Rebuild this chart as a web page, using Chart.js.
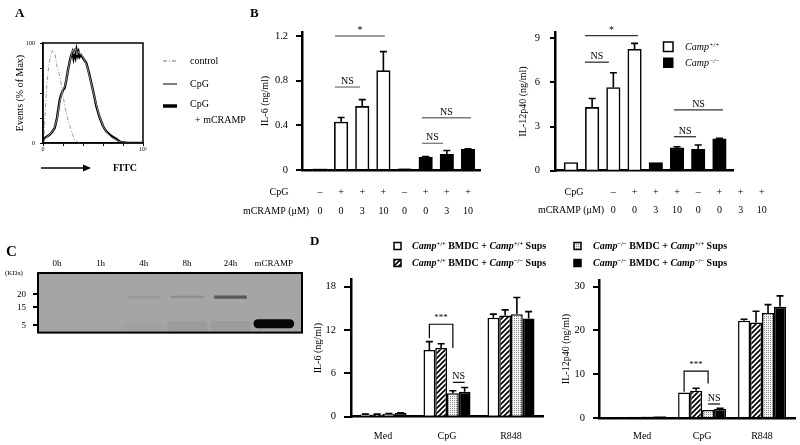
<!DOCTYPE html>
<html>
<head>
<meta charset="utf-8">
<script src="https://cdn.jsdelivr.net/npm/chart.js@4.4.1/dist/chart.umd.min.js"></script>
<style>
  body { margin: 0; background: #fff; }
  #wrap { position: relative; width: 800px; height: 445px; overflow: hidden; font-family: "Liberation Serif", "Times New Roman", serif; color: #000; }
  canvas { position: absolute; }
  .t { position: absolute; line-height: 1; white-space: nowrap; transform: translateY(-50%); font-size: 10px; }
  .t sup { font-size: 0.65em; vertical-align: 0.5em; line-height: 0; }
  .b { font-weight: bold; }
</style>
</head>
<body>
<div id="wrap">
  <canvas id="cA" width="250" height="200" style="left:0;top:0"></canvas>
  <canvas id="cB1" width="260" height="225" style="left:240px;top:0"></canvas>
  <canvas id="cB2" width="300" height="225" style="left:500px;top:0"></canvas>
  <canvas id="cC" width="320" height="115" style="left:0;top:230px"></canvas>
  <canvas id="cD1" width="450" height="215" style="left:300px;top:230px"></canvas>
  <canvas id="cD2" width="260" height="215" style="left:540px;top:230px"></canvas>

  <div class="t b" style="left:15px;top:12px;font-size:13px">A</div>
  <div class="t b" style="left:250px;top:12px;font-size:13px">B</div>
  <div class="t b" style="left:6px;top:251px;font-size:15px">C</div>
  <div class="t b" style="left:310px;top:240px;font-size:13px">D</div>

  <div class="t" style="left:190px;top:61px">control</div>
  <div class="t" style="left:190px;top:84px">CpG</div>
  <div class="t" style="left:190px;top:104px">CpG</div>
  <div class="t" style="left:195px;top:120px">+ mCRAMP</div>
  <div class="t b" style="left:113px;top:168px">FITC</div>

  <div class="t" style="left:685px;top:47px"><i>Camp</i><sup><i>+/+</i></sup></div>
  <div class="t" style="left:685px;top:63px"><i>Camp</i><sup><i>−/−</i></sup></div>

  <div class="t" style="left:5px;top:273px;font-size:7px">(KDa)</div>

  <div class="t b" style="left:412px;top:246px"><i>Camp</i><sup>+/+</sup> BMDC + <i>Camp</i><sup>+/+</sup> Sups</div>
  <div class="t b" style="left:412px;top:263px"><i>Camp</i><sup>+/+</sup> BMDC + <i>Camp</i><sup>−/−</sup> Sups</div>
  <div class="t b" style="left:593px;top:246px"><i>Camp</i><sup>−/−</sup> BMDC + <i>Camp</i><sup>+/+</sup> Sups</div>
  <div class="t b" style="left:593px;top:263px"><i>Camp</i><sup>−/−</sup> BMDC + <i>Camp</i><sup>−/−</sup> Sups</div>
</div>

<script>
// ---- A: FITC histogram (x = position along the 0..10^5 log axis, 0-100; y = % of max)
const ctrlX = [0, 0.7, 2.3, 4, 6, 8.3, 10, 11.7, 14, 16.7, 19.3, 21.7, 25, 28.3, 31.7, 35, 40];
const ctrlY = [0, 1.7, 33, 60, 80, 90, 93, 90, 77, 67, 53, 37, 23, 12, 3, 0.7, 0];
const cpgX = [0, 2, 5, 8, 11, 14, 16.7, 18.5, 20, 22, 24, 26, 28, 29.5, 31, 32.5, 34, 35.5, 37, 39, 41, 44, 47, 50, 53, 56, 60, 64, 68, 72, 76, 80, 100];
const cpgY = [2, 4.5, 7, 10, 14, 24, 41, 48, 54, 57, 67, 78, 87, 93, 89, 95, 88, 92, 89, 88, 84, 77, 65, 52, 40, 28, 17, 10, 6, 3.5, 1.5, 0.3, 0];
const cramX = [0, 1.7, 4, 6.7, 9, 11.7, 14, 16.7, 18.5, 20, 21.7, 23.3, 25, 27, 28.3, 29.5, 30.5, 31.5, 32.5, 33.5, 34.5, 35.5, 36.5, 38, 40, 43.3, 46, 48.3, 51, 53.3, 56.5, 60, 63, 66.7, 70, 73.3, 76, 78.3, 85, 100];
const cramY = [2, 5, 6.5, 8.3, 11, 15, 25, 43, 49, 53, 55, 63, 73, 83, 88, 91, 85, 90, 86, 93, 88, 91, 86, 88, 85, 80, 70, 60, 48, 37, 26, 17, 12, 8.3, 6, 4, 2, 0.7, 0, 0];

// ---- B: cytokines by CpG / mCRAMP treatment
const bCpG = ['–', '+', '+', '+', '–', '+', '+', '+'];
const bCramp = ['0', '0', '3', '10', '0', '0', '3', '10'];
const bGenotype = ['+/+', '+/+', '+/+', '+/+', '-/-', '-/-', '-/-', '-/-'];
const il6Mean = [0.01, 0.43, 0.57, 0.89, 0.01, 0.115, 0.14, 0.185];
const il6Err = [0, 0.04, 0.06, 0.17, 0, 0.005, 0.035, 0.005];
const il12Mean = [0.55, 4.3, 5.65, 8.25, 0.55, 1.55, 1.45, 2.17];
const il12Err = [0, 0.6, 1.0, 0.4, 0, 0.08, 0.3, 0.03];
const sigIL6 = [
  { x0: 0.71, x1: 3.07, y: 1.2, text: '*' },
  { x0: 0.71, x1: 1.89, y: 0.743, text: 'NS' },
  { x0: 4.82, x1: 7.14, y: 0.468, text: 'NS' },
  { x0: 4.82, x1: 5.82, y: 0.239, text: 'NS' }
];
const sigIL12 = [
  { x0: 0.66, x1: 3.16, y: 9.18, text: '*' },
  { x0: 0.66, x1: 1.79, y: 7.37, text: 'NS' },
  { x0: 4.86, x1: 7.17, y: 4.13, text: 'NS' },
  { x0: 4.86, x1: 5.9, y: 2.31, text: 'NS' }
];

// ---- C: western blot (y = migration position from the gel bottom)
const laneNames = ['0h', '1h', '4h', '8h', '24h', 'mCRAMP'];
const markerKDa = ['5', '15', '20'];
const markerPos = [8, 27, 41];
const smearLane = [2, 3, 4];
const smearLow = [1, 1, 1];
const smearHigh = [10, 12, 12];
const bandLane = [2, 3, 4];
const bandLow = [37.2, 37.4, 36.6];
const bandHigh = [39, 39.2, 39.6];
const pepLane = [5];
const pepLow = [5];
const pepHigh = [14];

// ---- D: supernatant transfer
const dGroups = ['Med', 'CpG', 'R848'];
const dSeries = ['Camp+/+ BMDC + Camp+/+ Sups', 'Camp+/+ BMDC + Camp-/- Sups', 'Camp-/- BMDC + Camp+/+ Sups', 'Camp-/- BMDC + Camp-/- Sups'];
const il6WW = [0.3, 9.25, 13.7], il6WWErr = [0.05, 1.15, 0.5];
const il6WK = [0.3, 9.5, 14.0], il6WKErr = [0.05, 0.6, 0.8];
const il6KW = [0.4, 3.25, 14.2], il6KWErr = [0.05, 0.35, 2.3];
const il6KK = [0.5, 3.45, 13.6], il6KKErr = [0.05, 0.6, 0.95];
const il12WW = [0.3, 5.8, 22.2], il12WWErr = [0, 0, 0.35];
const il12WK = [0.3, 6.25, 21.8], il12WKErr = [0, 0.55, 2.6];
const il12KW = [0.35, 1.85, 24.0], il12KWErr = [0, 0, 1.9];
const il12KK = [0.4, 2.05, 25.4], il12KKErr = [0, 0.15, 2.5];
const dSigIL6 = { group: 1, top: 12.8, leg0: 10.86, leg1: 9.5, ns: 4.76 };
const dSigIL12 = { group: 1, top: 10.7, leg0: 6.0, leg1: 7.9, ns: 3.2 };

Chart.defaults.font.family = '"Liberation Serif", "Times New Roman", serif';
Chart.defaults.color = '#000';
Chart.defaults.animation = false;
Chart.defaults.responsive = false;
Chart.defaults.events = [];
Chart.defaults.plugins.legend.display = false;
Chart.defaults.plugins.tooltip.enabled = false;

const zip = (xs, ys) => xs.map((x, i) => ({ x: x, y: ys[i] }));
const pts = (vals) => vals.map((v, i) => ({ x: i, y: v }));
const SERIF = '"Liberation Serif", serif';

// bar fill patterns
function makeHatch() {
  const c = document.createElement('canvas'); c.width = c.height = 5;
  const g = c.getContext('2d');
  g.fillStyle = '#fff'; g.fillRect(0, 0, 5, 5);
  g.strokeStyle = '#000'; g.lineWidth = 1.7;
  g.beginPath();
  g.moveTo(-1, 6); g.lineTo(6, -1);
  g.moveTo(-1, 1); g.lineTo(1, -1);
  g.moveTo(4, 6); g.lineTo(6, 4);
  g.stroke();
  return g.createPattern(c, 'repeat');
}
function makeDots() {
  const c = document.createElement('canvas'); c.width = c.height = 2;
  const g = c.getContext('2d');
  g.fillStyle = '#f4f4f4'; g.fillRect(0, 0, 2, 2);
  g.fillStyle = '#8c8c8c'; g.fillRect(0, 0, 1, 1);
  return g.createPattern(c, 'repeat');
}
const dFills = ['#ffffff', makeHatch(), makeDots(), '#000000'];

function yAxis(o) {
  return {
    min: 0, max: o.max,
    afterFit: s => { s.width = o.w; },
    border: { color: '#000', width: 2.5 },
    grid: { drawOnChartArea: false, tickLength: o.tl, color: '#000', lineWidth: 2 },
    ticks: { stepSize: o.step, includeBounds: false, padding: o.pad, font: { size: 10.5 } },
    title: { display: true, text: o.title, font: { size: 10 }, padding: { top: o.tp, bottom: 0 } }
  };
}

const errBars = {
  id: 'errBars',
  afterDatasetsDraw(chart) {
    const ctx = chart.ctx, ys = chart.scales.y;
    chart.data.datasets.forEach((ds, di) => {
      if (!ds.errors) return;
      chart.getDatasetMeta(di).data.forEach((bar, i) => {
        const e = ds.errors[i];
        if (!e) return;
        const v = ds.data[i].y;
        const y0 = ys.getPixelForValue(v), y1 = ys.getPixelForValue(v + e);
        ctx.save();
        ctx.strokeStyle = '#000'; ctx.lineWidth = 1.6;
        ctx.beginPath();
        ctx.moveTo(bar.x, y0); ctx.lineTo(bar.x, y1);
        ctx.moveTo(bar.x - 3.5, y1); ctx.lineTo(bar.x + 3.5, y1);
        ctx.stroke();
        ctx.restore();
      });
    });
  }
};

function sigMarks(items, color) {
  return {
    id: 'sigMarks',
    afterDraw(chart) {
      const ctx = chart.ctx, xs = chart.scales.x, ys = chart.scales.y;
      ctx.save();
      ctx.strokeStyle = color; ctx.lineWidth = 1.3; ctx.fillStyle = '#000';
      ctx.textAlign = 'center'; ctx.textBaseline = 'alphabetic';
      ctx.font = '10px ' + SERIF;
      items.forEach(s => {
        const x0 = xs.getPixelForValue(s.x0), x1 = xs.getPixelForValue(s.x1), y = ys.getPixelForValue(s.y);
        ctx.beginPath(); ctx.moveTo(x0, y); ctx.lineTo(x1, y); ctx.stroke();
        ctx.fillText(s.text, (x0 + x1) / 2, y - 3);
      });
      ctx.restore();
    }
  };
}

function rowLabels(rows, shift) {
  return {
    id: 'rowLabels',
    afterDraw(chart) {
      const ctx = chart.ctx, xs = chart.scales.x;
      ctx.save();
      ctx.fillStyle = '#000'; ctx.font = '10px ' + SERIF;
      ctx.textAlign = 'center'; ctx.textBaseline = 'middle';
      rows.forEach(r => {
        ctx.fillText(r.title, r.titleX, r.y);
        r.labels.forEach((lab, i) => ctx.fillText(lab, xs.getPixelForValue(i + shift), r.y));
      });
      ctx.restore();
    }
  };
}

function bracketMarks(sig) {
  return {
    id: 'bracketMarks',
    afterDraw(chart) {
      const ctx = chart.ctx, ys = chart.scales.y;
      const bx = d => chart.getDatasetMeta(d).data[sig.group].x;
      const top = ys.getPixelForValue(sig.top);
      ctx.save();
      ctx.strokeStyle = '#000'; ctx.lineWidth = 1.2; ctx.fillStyle = '#000';
      ctx.textAlign = 'center'; ctx.textBaseline = 'alphabetic';
      ctx.beginPath();
      ctx.moveTo(bx(0), ys.getPixelForValue(sig.leg0));
      ctx.lineTo(bx(0), top); ctx.lineTo(bx(2), top);
      ctx.lineTo(bx(2), ys.getPixelForValue(sig.leg1));
      ctx.stroke();
      ctx.font = '9px ' + SERIF;
      ctx.fillText('***', (bx(0) + bx(2)) / 2, top - 4);
      const ny = ys.getPixelForValue(sig.ns);
      ctx.beginPath(); ctx.moveTo(bx(2), ny); ctx.lineTo(bx(3), ny); ctx.stroke();
      ctx.font = '10px ' + SERIF;
      ctx.fillText('NS', (bx(2) + bx(3)) / 2, ny - 3);
      ctx.restore();
    }
  };
}

// ---------- A ----------
new Chart(document.getElementById('cA'), {
  type: 'line',
  data: {
    datasets: [
      { label: 'CpG', data: zip(cpgX, cpgY), borderColor: '#8a8a8a', borderWidth: 1, pointRadius: 0 },
      { label: 'control', data: zip(ctrlX, ctrlY), borderColor: '#9a9a9a', borderWidth: 1, borderDash: [4, 2, 1, 2], pointRadius: 0 },
      { label: 'CpG + mCRAMP', data: zip(cramX, cramY), borderColor: '#000', borderWidth: 2.4, pointRadius: 0 }
    ]
  },
  options: {
    layout: { padding: { left: 0, top: 43, right: 107, bottom: 42 } },
    scales: {
      x: {
        type: 'linear', min: 0, max: 100,
        afterFit: s => { s.height = 15; },
        border: { color: '#000', width: 1.5 },
        grid: { drawOnChartArea: false, tickLength: 3, color: '#000', lineWidth: 1 },
        ticks: { stepSize: 10, padding: 0, maxRotation: 0, font: { size: 6 },
          callback: v => v === 0 ? '0' : (v === 100 ? '10⁵' : '') }
      },
      y: {
        min: 0, max: 100,
        afterFit: s => { s.width = 43; },
        border: { color: '#000', width: 1.5 },
        grid: { drawOnChartArea: false, tickLength: 3, color: '#000', lineWidth: 1 },
        ticks: { stepSize: 25, padding: 5, font: { size: 6 },
          callback: v => (v === 0 || v === 100) ? String(v) : '' },
        title: { display: true, text: 'Events (% of Max)', font: { size: 10 }, padding: { top: 14, bottom: 0 } }
      }
    }
  },
  plugins: [{
    id: 'histExtras',
    afterDraw(chart) {
      const ctx = chart.ctx, a = chart.chartArea;
      ctx.save();
      ctx.strokeStyle = '#000'; ctx.lineWidth = 1.5;
      ctx.strokeRect(a.left, a.top, a.right - a.left, a.bottom - a.top);
      // legend lines
      const legend = [[61, '#777', 1, [4, 2, 1, 2]], [84, '#000', 1, []], [106, '#000', 3.5, []]];
      legend.forEach(([y, c, w, dash]) => {
        ctx.strokeStyle = c; ctx.lineWidth = w; ctx.setLineDash(dash);
        ctx.beginPath(); ctx.moveTo(163, y); ctx.lineTo(177, y); ctx.stroke();
      });
      ctx.setLineDash([]);
      // FITC arrow
      ctx.strokeStyle = '#000'; ctx.lineWidth = 1.6;
      ctx.beginPath(); ctx.moveTo(41, 168); ctx.lineTo(85, 168); ctx.stroke();
      ctx.fillStyle = '#000';
      ctx.beginPath(); ctx.moveTo(91, 168); ctx.lineTo(83, 164.5); ctx.lineTo(83, 171.5); ctx.closePath(); ctx.fill();
      ctx.restore();
    }
  }]
});

// ---------- B left: IL-6 ----------
new Chart(document.getElementById('cB1'), {
  type: 'bar',
  data: {
    datasets: [{
      data: pts(il6Mean), errors: il6Err,
      backgroundColor: bGenotype.map(g => g === '+/+' ? '#fff' : '#000'),
      borderColor: '#000', borderWidth: 1.6, barThickness: 13.5
    }]
  },
  options: {
    layout: { padding: { left: 0, top: 32, right: 20, bottom: 55 } },
    scales: {
      x: { type: 'linear', offset: false, min: -0.85, max: 7.57, afterFit: s => { s.height = 0; },
        ticks: { display: false }, grid: { display: false, drawTicks: false }, border: { color: '#000', width: 2.5 } },
      y: yAxis({ max: 1.236, step: 0.4, w: 62, tl: 6, pad: 8, title: 'IL-6 (ng/ml)', tp: 19 })
    }
  },
  plugins: [errBars, sigMarks(sigIL6, '#7a7a7a'),
    rowLabels([{ title: 'CpG', titleX: 39, y: 192, labels: bCpG },
               { title: 'mCRAMP (μM)', titleX: 36, y: 211, labels: bCramp }], 0)]
});

// ---------- B right: IL-12p40 ----------
new Chart(document.getElementById('cB2'), {
  type: 'bar',
  data: {
    datasets: [{
      data: pts(il12Mean), errors: il12Err,
      backgroundColor: bGenotype.map(g => g === '+/+' ? '#fff' : '#000'),
      borderColor: '#000', borderWidth: 1.6, barThickness: 13.5
    }]
  },
  options: {
    layout: { padding: { left: 0, top: 32.3, right: 67, bottom: 54.3 } },
    scales: {
      x: { type: 'linear', offset: false, min: -0.75, max: 7.64, afterFit: s => { s.height = 0; },
        ticks: { display: false }, grid: { display: false, drawTicks: false }, border: { color: '#000', width: 2.5 } },
      y: yAxis({ max: 9.4, step: 3, w: 55, tl: 5, pad: 10, title: 'IL-12p40 (ng/ml)', tp: 17 })
    }
  },
  plugins: [errBars, sigMarks(sigIL12, '#333'),
    rowLabels([{ title: 'CpG', titleX: 74, y: 192, labels: bCpG },
               { title: 'mCRAMP (μM)', titleX: 71, y: 210, labels: bCramp }], 2),
    {
      id: 'genoLegend',
      afterDraw(chart) {
        const ctx = chart.ctx;
        ctx.save();
        ctx.strokeStyle = '#000'; ctx.lineWidth = 1.5;
        ctx.fillStyle = '#fff'; ctx.fillRect(163.5, 42, 9.5, 9.5); ctx.strokeRect(163.5, 42, 9.5, 9.5);
        ctx.fillStyle = '#000'; ctx.fillRect(163, 57.5, 10.5, 10.5);
        ctx.restore();
      }
    }]
});

// ---------- C: blot ----------
new Chart(document.getElementById('cC'), {
  type: 'bar',
  data: {
    datasets: [
      { data: smearLane.map((l, i) => ({ x: l, y: [smearLow[i], smearHigh[i]] })), stack: 'gel',
        backgroundColor: ['#a1a1a1', '#9c9c9c', '#9d9d9d'], barThickness: 40, borderWidth: 0, borderRadius: 4, borderSkipped: false },
      { data: bandLane.map((l, i) => ({ x: l, y: [bandLow[i], bandHigh[i]] })), stack: 'gel',
        backgroundColor: ['#979797', '#8e8e8e', '#585858'], barThickness: 32, borderWidth: 0 },
      { data: pepLane.map((l, i) => ({ x: l, y: [pepLow[i], pepHigh[i]] })), stack: 'gel',
        backgroundColor: '#070707', barThickness: 40, borderWidth: 0, borderRadius: 5, borderSkipped: false }
    ]
  },
  options: {
    layout: { padding: { left: 0, top: 23, right: 18, bottom: 8 } },
    scales: {
      x: {
        type: 'linear', position: 'top', offset: false, min: -0.44, max: 5.65,
        afterFit: s => { s.height = 20; },
        afterBuildTicks: s => { s.ticks = laneNames.map((n, i) => ({ value: i })); },
        border: { display: false }, grid: { display: false, drawTicks: false },
        ticks: { padding: 4, autoSkip: false, maxRotation: 0, font: { size: 9 }, callback: v => laneNames[v] }
      },
      y: {
        min: 0, max: 64, stacked: false,
        afterFit: s => { s.width = 38; },
        afterBuildTicks: s => { s.ticks = markerPos.map(v => ({ value: v })); },
        border: { display: false },
        grid: { drawOnChartArea: false, tickLength: 5, color: '#000', lineWidth: 2 },
        ticks: { padding: 7, font: { size: 9 }, callback: v => markerKDa[markerPos.indexOf(v)] }
      }
    }
  },
  plugins: [{
    id: 'gel',
    beforeDatasetsDraw(chart) {
      const ctx = chart.ctx, a = chart.chartArea;
      ctx.save(); ctx.fillStyle = '#a5a5a5';
      ctx.fillRect(a.left, a.top, a.right - a.left, a.bottom - a.top);
      ctx.restore();
    },
    afterDraw(chart) {
      const ctx = chart.ctx, a = chart.chartArea;
      ctx.save(); ctx.strokeStyle = '#000'; ctx.lineWidth = 2;
      ctx.strokeRect(a.left, a.top, a.right - a.left, a.bottom - a.top);
      ctx.restore();
    }
  }]
});

// ---------- D ----------
function dDatasets(series, errs) {
  return series.map((vals, i) => ({
    label: dSeries[i], data: pts(vals), errors: errs[i],
    backgroundColor: dFills[i], borderColor: '#000', borderWidth: 1.5
  }));
}
function dXAxis(min, max, pad) {
  return {
    type: 'linear', offset: false, min: min, max: max,
    afterFit: s => { s.height = 24; },
    afterBuildTicks: s => { s.ticks = dGroups.map((g, i) => ({ value: i })); },
    border: { color: '#000', width: 2.5 },
    grid: { display: false, drawTicks: false },
    ticks: { padding: pad, autoSkip: false, maxRotation: 0, font: { size: 10 }, callback: v => dGroups[v] }
  };
}

new Chart(document.getElementById('cD1'), {
  type: 'bar',
  data: { datasets: dDatasets([il6WW, il6WK, il6KW, il6KK], [il6WWErr, il6WKErr, il6KWErr, il6KKErr]) },
  options: {
    datasets: { bar: { categoryPercentage: 0.735, barPercentage: 1 } },
    layout: { padding: { left: 0, top: 49.5, right: 207, bottom: 4.3 } },
    scales: {
      x: dXAxis(-0.5, 2.5, 13.5),
      y: yAxis({ max: 19, step: 6, w: 51, tl: 7, pad: 8, title: 'IL-6 (ng/ml)', tp: 12 })
    }
  },
  plugins: [errBars, bracketMarks(dSigIL6), {
    id: 'dLegend',
    afterDraw(chart) {
      const ctx = chart.ctx;
      const spots = [[94, 12.5], [94, 29.5], [274, 12.5], [274, 29.5]];
      ctx.save(); ctx.strokeStyle = '#000'; ctx.lineWidth = 1.5;
      chart.data.datasets.forEach((ds, i) => {
        const [x, y] = spots[i];
        ctx.fillStyle = ds.backgroundColor;
        ctx.fillRect(x, y, 7, 7); ctx.strokeRect(x, y, 7, 7);
      });
      ctx.restore();
    }
  }]
});

new Chart(document.getElementById('cD2'), {
  type: 'bar',
  data: { datasets: dDatasets([il12WW, il12WK, il12KW, il12KK], [il12WWErr, il12WKErr, il12KWErr, il12KKErr]) },
  options: {
    datasets: { bar: { categoryPercentage: 0.8, barPercentage: 1 } },
    layout: { padding: { left: 0, top: 50, right: 5, bottom: 3 } },
    scales: {
      x: dXAxis(-0.72, 2.55, 12.2),
      y: yAxis({ max: 31.53, step: 10, w: 59, tl: 6, pad: 8, title: 'IL-12p40 (ng/ml)', tp: 20 })
    }
  },
  plugins: [errBars, bracketMarks(dSigIL12)]
});
</script>
</body>
</html>
